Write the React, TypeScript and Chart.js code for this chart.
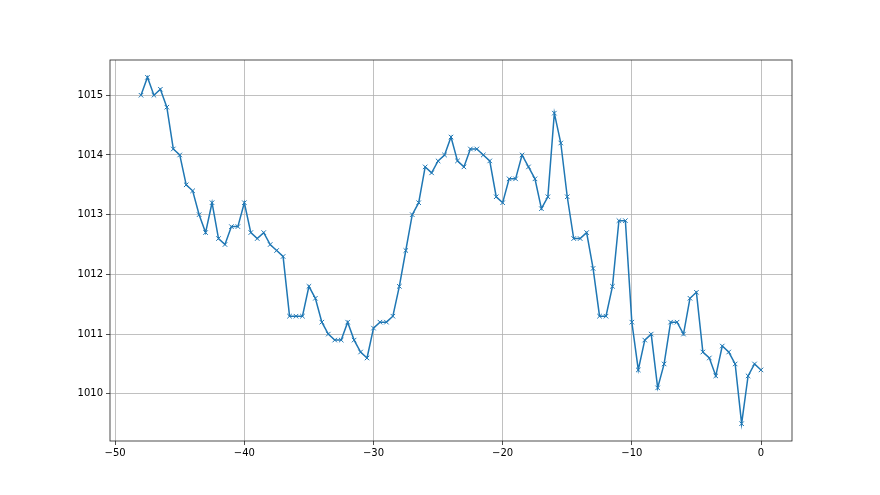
import React, { useEffect, useRef } from "react";
import { Chart, registerables } from "chart.js";

Chart.register(...registerables);

const xStart = -48;
const xStep = 0.5;
const pressure: number[] = [
  1015.0, 1015.3, 1015.0, 1015.1, 1014.8, 1014.1, 1014.0, 1013.5, 1013.4, 1013.0,
  1012.7, 1013.2, 1012.6, 1012.5, 1012.8, 1012.8, 1013.2,
  1012.7, 1012.6, 1012.7, 1012.5, 1012.4, 1012.3, 1011.3, 1011.3, 1011.3, 1011.8,
  1011.6, 1011.2, 1011.0, 1010.9, 1010.9, 1011.2, 1010.9, 1010.7, 1010.6, 1011.1,
  1011.2, 1011.2, 1011.3, 1011.8, 1012.4, 1013.0, 1013.2, 1013.8, 1013.7, 1013.9,
  1014.0, 1014.3, 1013.9, 1013.8, 1014.1, 1014.1, 1014.0, 1013.9, 1013.3, 1013.2,
  1013.6, 1013.6, 1014.0, 1013.8, 1013.6, 1013.1, 1013.3, 1014.7, 1014.2, 1013.3,
  1012.6, 1012.6, 1012.7, 1012.1, 1011.3, 1011.3, 1011.8, 1012.9, 1012.9, 1011.2,
  1010.4, 1010.9, 1011.0, 1010.1, 1010.5, 1011.2, 1011.2, 1011.0, 1011.6, 1011.7,
  1010.7, 1010.6, 1010.3, 1010.8, 1010.7, 1010.5, 1009.5, 1010.3, 1010.5, 1010.4,
];
const xTicks: number[] = [-50, -40, -30, -20, -10, 0];
const yTicks: number[] = [1010, 1011, 1012, 1013, 1014, 1015];

const fmt = (v: number) => String(v).replace("-", "\u2212");

const framePlugin = {
  id: "frame",
  afterDraw(chart: any) {
    const { ctx, chartArea } = chart;
    ctx.save();
    ctx.strokeStyle = "#222";
    ctx.lineWidth = 0.8;
    ctx.strokeRect(chartArea.left, chartArea.top, chartArea.right - chartArea.left, chartArea.bottom - chartArea.top);
    ctx.restore();
  },
};

export default function App() {
  const ref = useRef<HTMLCanvasElement>(null);
  useEffect(() => {
    document.body.style.margin = "0";
    const data = pressure.map((y, i) => ({ x: xStart + i * xStep, y }));
    const chart = new Chart(ref.current!, {
      type: "line",
      data: {
        datasets: [
          {
            data,
            borderColor: "#1f77b4",
            backgroundColor: "#1f77b4",
            borderWidth: 1.5,
            pointStyle: "crossRot",
            pointRadius: 3.2,
            pointBorderWidth: 1,
            pointHoverRadius: 3.2,
            tension: 0,
          },
        ],
      },
      options: {
        animation: false,
        responsive: false,
        events: [],
        layout: { padding: { left: 60, right: 88, top: 60, bottom: 24 } },
        plugins: { legend: { display: false }, tooltip: { enabled: false } },
        scales: {
          x: {
            type: "linear",
            min: -50.4,
            max: 2.4,
            afterBuildTicks: (s: any) => {
              s.ticks = xTicks.map((v) => ({ value: v }));
            },
            afterFit: (s: any) => {
              s.height = 30;
            },
            grid: { color: "#b0b0b0", lineWidth: 0.8, tickColor: "#222", tickLength: 4, drawTicks: true },
            border: { display: false },
            ticks: {
              color: "#000",
              font: { family: "DejaVu Sans", size: 10 },
              padding: 2,
              maxRotation: 0,
              autoSkip: false,
              callback: (v: any) => fmt(v),
            },
          },
          y: {
            type: "linear",
            min: 1009.21,
            max: 1015.59,
            afterBuildTicks: (s: any) => {
              s.ticks = yTicks.map((v) => ({ value: v }));
            },
            afterFit: (s: any) => {
              s.width = 50;
            },
            grid: { color: "#b0b0b0", lineWidth: 0.8, tickColor: "#222", tickLength: 4, drawTicks: true },
            border: { display: false },
            ticks: {
              color: "#000",
              font: { family: "DejaVu Sans", size: 10 },
              padding: 3,
              autoSkip: false,
              callback: (v: any) => fmt(v),
            },
          },
        },
      },
      plugins: [framePlugin],
    });
    return () => chart.destroy();
  }, []);
  return (
    <div style={{ width: 880, height: 495, background: "#fff" }}>
      <canvas ref={ref} width={880} height={495} style={{ display: "block" }} />
    </div>
  );
}
